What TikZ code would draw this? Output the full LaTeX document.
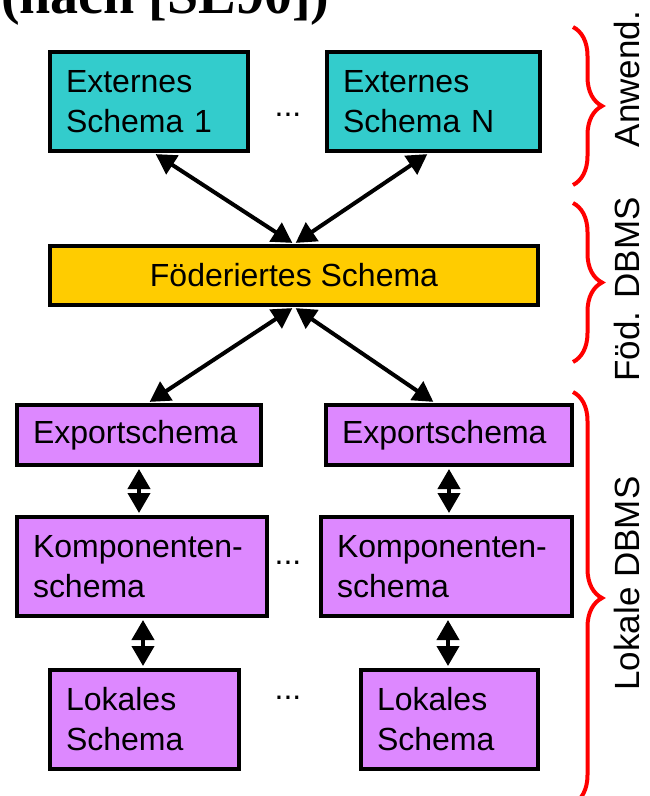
\documentclass[tikz,border=0pt]{standalone}
\usepackage{fontspec}
\setmainfont{Liberation Sans}
\newfontfamily\titlefont{Liberation Serif}
\usetikzlibrary{arrows.meta,decorations.pathreplacing,calc}
\definecolor{cyanbox}{RGB}{51,204,204}
\definecolor{fedbox}{RGB}{255,204,0}
\definecolor{violetbox}{RGB}{221,136,255}
\begin{document}
\begin{tikzpicture}[x=1pt,y=-1pt,
  box/.style={draw=black, line width=4pt, inner xsep=16pt, inner ysep=0pt, align=left,
    font=\fontsize{32}{40}\selectfont, anchor=center},
  arr/.style={line width=4pt, shorten <=2pt, shorten >=2pt,
    {Triangle[length=20pt,width=22pt]}-{Triangle[length=20pt,width=22pt]}},
  brc/.style={draw=red, line width=4pt, decorate, decoration={brace, amplitude=29pt}},
  side/.style={rotate=90, font=\fontsize{35}{40}\selectfont, inner sep=0pt},
  dotsn/.style={font=\fontsize{32}{40}\selectfont, inner sep=0pt}]
\useasboundingbox (0,0) rectangle (650,796);

% title (cut off at the top)
\node[font={\fontsize{56}{60}\selectfont\titlefont\bfseries}, anchor=base west, inner sep=0pt]
  (title) at (1,13) {(nach [SL90])};

% external schemas
\node[box, fill=cyanbox, minimum width=198pt, minimum height=99pt, text width=166pt]
  (e1) at (149,101.5) {Externes\\Schema 1};
\node[box, fill=cyanbox, minimum width=213pt, minimum height=99pt, text width=181pt]
  (en) at (433.5,101.5) {Externes\\Schema N};
\node[dotsn] (d1) at (288,115) {...};

% federated schema
\node[box, fill=fedbox, minimum width=488pt, minimum height=59pt, align=center, inner xsep=0pt]
  (fed) at (294,275.5) {F\"oderiertes Schema};

% export schemas
\node[box, fill=violetbox, minimum width=244pt, minimum height=60pt, text width=212pt]
  (x1) at (139,435) {Exportschema};
\node[box, fill=violetbox, minimum width=246pt, minimum height=60pt, text width=214pt]
  (x2) at (449,435) {Exportschema};

% component schemas
\node[box, fill=violetbox, minimum width=250pt, minimum height=99pt, text width=218pt]
  (k1) at (142,566.5) {Komponenten-\\schema};
\node[box, fill=violetbox, minimum width=251pt, minimum height=99pt, text width=219pt]
  (k2) at (446.5,566.5) {Komponenten-\\schema};
\node[dotsn] (d2) at (288,563) {...};

% local schemas
\node[box, fill=violetbox, minimum width=189pt, minimum height=99pt, text width=157pt]
  (l1) at (144.5,719.5) {Lokales\\Schema};
\node[box, fill=violetbox, minimum width=177pt, minimum height=99pt, text width=145pt]
  (l2) at (449.5,719.5) {Lokales\\Schema};
\node[dotsn] (d3) at (288,698) {...};

% arrows
\draw[arr] ($(e1.south)+(5,0)$) -- (fed.north);
\draw[arr] ($(en.south)+(-4.5,0)$) -- (fed.north);
\draw[arr] (fed.south) -- ($(x1.north)+(9,0)$);
\draw[arr] (fed.south) -- ($(x2.north)+(-14,0)$);
\draw[arr] (x1.south) -- (k1.north -| x1.south);
\draw[arr] (x2.south) -- (k2.north -| x2.south);
\draw[arr] ($(k1.south)+(1,0)$) -- ($(l1.north -| k1.south)+(1,0)$);
\draw[arr] ($(k2.south)+(1.5,0)$) -- ($(l2.north -| k2.south)+(1.5,0)$);

% braces
\coordinate (b1a) at (573,27);  \coordinate (b1b) at (573,185);
\coordinate (b2a) at (573,203); \coordinate (b2b) at (573,362);
\coordinate (b3a) at (573,392); \coordinate (b3b) at (573,804);
\draw[brc] (b1a) -- (b1b);
\draw[brc] (b2a) -- (b2b);
\draw[brc] (b3a) -- (b3b);

% side labels
\node[side] (s1) at (627,79) {Anwend.};
\node[side] (s2) at (627,289.5) {F\"od. DBMS};
\node[side] (s3) at (627,583.5) {Lokale DBMS};
\end{tikzpicture}
\end{document}
